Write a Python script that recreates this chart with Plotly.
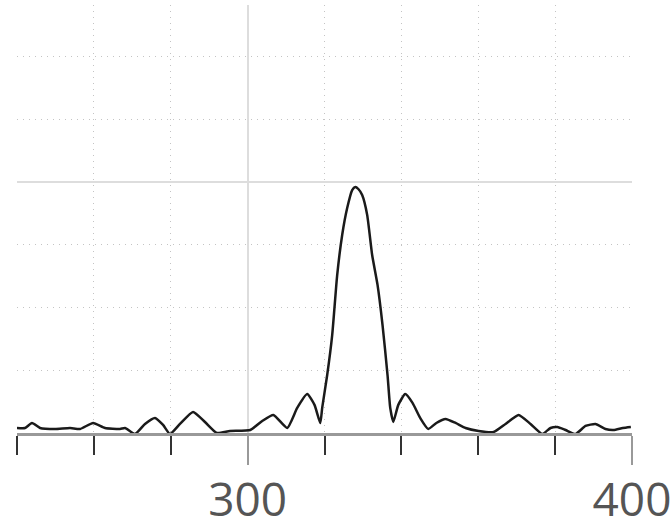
import plotly.graph_objects as go

# Traced curve values
x_vals = [240.0, 242.1, 243.9, 246.0, 249.9, 253.8, 256.4, 259.8, 262.9, 266.8,
          268.1, 270.7, 273.3, 275.9, 278.0, 279.8, 282.4, 285.8, 288.9, 292.0,
          295.4, 300.7, 303.8, 306.7, 310.3, 312.9, 315.5, 317.4, 318.9, 319.4,
          320.7, 322.0, 323.3, 324.6, 325.9, 327.2, 328.0, 328.8, 329.8, 331.1,
          332.4, 333.8, 335.1, 336.4, 337.1, 337.9, 339.2, 341.0, 342.9, 344.9,
          347.0, 349.1, 351.5, 354.1, 356.7, 360.1, 364.0, 367.1, 370.5, 373.6,
          376.7, 378.8, 380.6, 382.7, 385.3, 387.9, 390.5, 393.1, 395.2, 397.6,
          399.7]
y_vals = [0.020, 0.020, 0.040, 0.020, 0.016, 0.020, 0.016, 0.040, 0.020, 0.016,
          0.020, -0.004, 0.036, 0.060, 0.032, -0.004, 0.036, 0.084, 0.044, 0.000,
          0.008, 0.012, 0.048, 0.072, 0.020, 0.100, 0.155, 0.112, 0.040, 0.100,
          0.231, 0.390, 0.629, 0.789, 0.896, 0.968, 0.980, 0.972, 0.948, 0.869,
          0.709, 0.590, 0.430, 0.231, 0.100, 0.044, 0.112, 0.155, 0.120, 0.060,
          0.016, 0.040, 0.056, 0.040, 0.020, 0.008, 0.004, 0.036, 0.072, 0.036,
          -0.004, 0.020, 0.024, 0.012, -0.004, 0.028, 0.036, 0.016, 0.012, 0.020,
          0.024]
x_tick_vals = [300, 400]
x_tick_text = ["300", "400"]

fig = go.Figure()
fig.add_trace(go.Scatter(x=x_vals, y=y_vals, mode="lines",
                         line=dict(color="#1a1a1a", width=2.5, shape="spline",
                                   smoothing=0.5),
                         hoverinfo="skip"))

fig.update_layout(
    width=672, height=524,
    margin=dict(l=17, r=40, t=5, b=91, autoexpand=False),
    paper_bgcolor="white", plot_bgcolor="white",
    showlegend=False,
    font=dict(family="Open Sans", color="#555555"),
)
fig.update_xaxes(
    range=[240, 400], tickvals=x_tick_vals, ticktext=x_tick_text,
    automargin=False,
    ticks="outside", ticklen=29, tickwidth=2, tickcolor="#999999",
    tickfont=dict(size=46, color="#555555"), ticklabelstandoff=-4,
    showgrid=True, gridcolor="#dddddd", gridwidth=2,
    showline=True, linecolor="#999999", linewidth=3,
    zeroline=False,
    minor=dict(dtick=20, tick0=240, ticks="outside", ticklen=19, tickwidth=1.5,
               tickcolor="#333333", showgrid=True, gridcolor="#c4c4c4",
               gridwidth=1, griddash="1px,5px"),
)
fig.update_yaxes(
    range=[0, 1.705], dtick=1, tick0=0, showticklabels=False, ticks="",
    automargin=False,
    showgrid=True, gridcolor="#dddddd", gridwidth=2,
    zeroline=False, showline=False,
    minor=dict(dtick=0.25, tick0=0, showgrid=True, gridcolor="#c4c4c4",
               gridwidth=1, griddash="1px,5px"),
)

fig.write_html("out.html",
               config={"displayModeBar": False},
               post_script="document.body.style.margin='0';document.body.style.padding='0';")
